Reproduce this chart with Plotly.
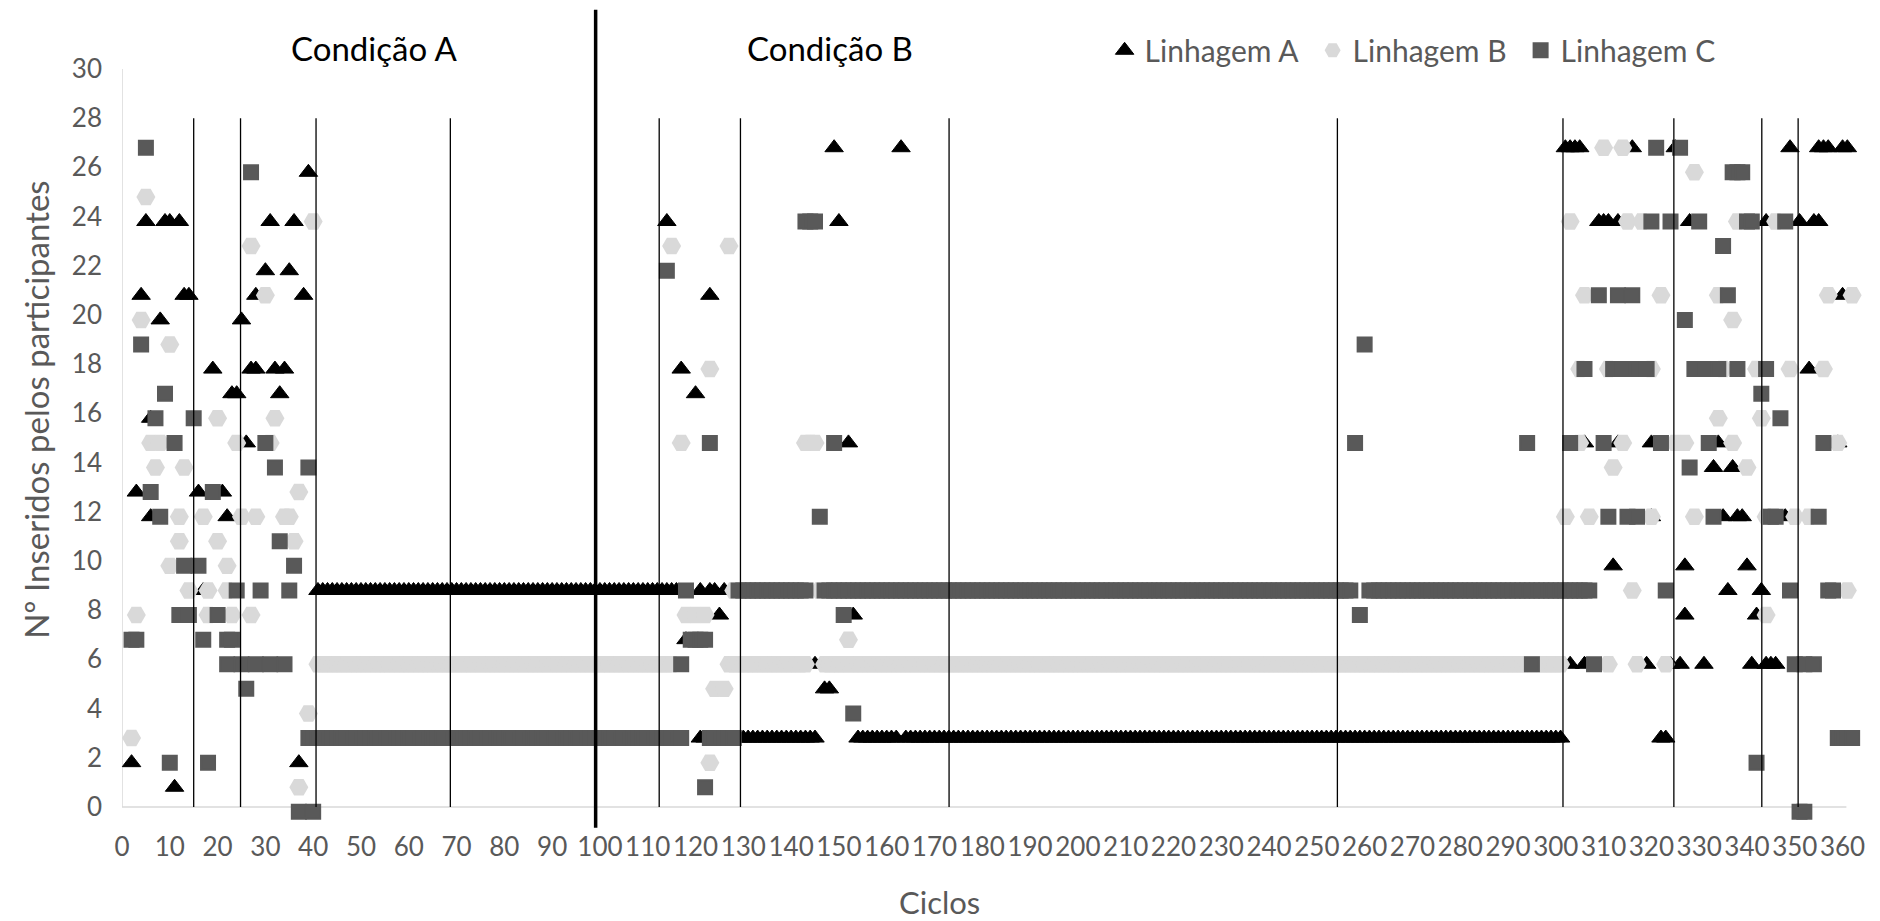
import plotly.graph_objects as go

# ---------------- data (cycle, participants inserted) ----------------
# Linhagem A – individual points
A_x = [2, 3, 4, 5, 6, 6, 8, 9, 10, 11, 12, 13, 14, 16, 17, 19, 21, 22, 23, 24, 25, 26, 27, 28, 28,
       30, 31, 32, 33, 34, 35, 36, 37, 38, 39,
       114, 117, 118, 120, 121, 123, 124, 126, 123, 125, 128, 121, 122,
       145, 147, 148, 149, 150, 151, 152, 153, 163,
       302, 303, 304, 305, 309, 310, 311, 313, 316, 325, 306, 313, 320, 320, 312, 327, 327,
       303, 306, 319, 324, 322, 323, 328, 344, 351, 354, 355, 349, 355, 356, 357, 360, 361,
       360, 353, 334, 359, 333, 337, 335, 338, 339, 348, 340, 336, 343, 342, 326, 331, 341,
       344, 345, 346]
A_y = [2, 13, 21, 24, 16, 12, 20, 24, 24, 1, 24, 21, 21, 13, 9, 18, 13, 12, 17, 17, 20, 15, 18, 18, 21,
       22, 24, 18, 17, 18, 22, 24, 2, 21, 26,
       24, 18, 7, 17, 9, 9, 9, 9, 21, 8, 6, 3, 3,
       6, 5, 5, 27, 24, 6, 15, 8, 27,
       27, 27, 27, 27, 24, 24, 24, 24, 27, 27, 15, 15, 15, 12, 10, 10, 8,
       6, 6, 6, 6, 3, 3, 24, 24, 24, 24, 24, 27, 27, 27, 27, 27, 27,
       21, 18, 15, 15, 14, 14, 12, 12, 12, 12, 10, 9, 9, 8, 6, 6, 6,
       6, 6, 6]
# Linhagem A – constant stretches (first cycle, last cycle, value)
A_run_start = [41, 129, 154, 164]
A_run_end = [116, 145, 162, 301]
A_run_value = [9, 3, 3, 3]

# Linhagem B – individual points
B_x = [2, 3, 4, 5, 6, 7, 8, 10, 10, 12, 12, 13, 14, 17, 18, 18, 20, 20, 22, 22, 23, 24, 25, 27, 27,
       28, 30, 31, 32, 34, 35, 36, 37, 37, 39, 40,
       115, 127, 123, 117, 143, 144, 145, 146, 128, 118, 120, 122, 152, 124, 126, 123,
       310, 314, 329, 303, 315, 318, 306, 322, 305, 311, 320, 305, 314, 312, 325, 327,
       302, 307, 320, 316, 311, 317, 323, 338, 346, 334, 357, 362, 337, 335, 342, 349, 356,
       334, 343, 337, 359, 340, 329, 344, 350, 353, 361, 344]
B_y = [3, 8, 20, 25, 15, 14, 15, 19, 10, 12, 11, 14, 9, 12, 9, 8, 16, 11, 10, 9, 8, 15, 12, 23, 8,
       12, 21, 15, 16, 12, 12, 11, 13, 1, 4, 24,
       23, 23, 18, 15, 15, 15, 15, 9, 9, 8, 8, 8, 7, 5, 5, 2,
       27, 27, 26, 24, 24, 24, 21, 21, 18, 18, 18, 15, 15, 14, 15, 15,
       12, 12, 12, 9, 6, 6, 6, 24, 24, 21, 21, 21, 20, 18, 18, 18, 18,
       16, 16, 15, 15, 14, 12, 12, 12, 12, 9, 8]
B_run_start = [41, 127, 147]
B_run_end = [115, 143, 301]
B_run_value = [6, 6, 6]

# Linhagem C – individual points
C_x = [2, 3, 4, 5, 6, 7, 8, 9, 10, 11, 13, 12, 14, 15, 16, 17, 18, 19, 20, 22, 23, 24, 26, 27,
       29, 30, 32, 33, 35, 36, 37, 39, 40, 22, 25, 28, 31, 34,
       114, 123, 118, 119, 120, 121, 122, 117, 122, 143, 144, 145, 146, 149, 151, 153,
       258, 259, 260, 294, 295,
       321, 326, 320, 324, 309, 313, 316, 327, 306, 312, 314, 317, 319, 303, 310, 322, 328,
       311, 315, 317, 323, 308, 337, 338, 339, 330, 340, 341, 348, 335, 336, 329, 331, 334,
       338, 344, 343, 347, 332, 356, 333, 345, 346, 355, 349, 357, 358, 350, 352, 354,
       359, 360, 361, 362, 342, 351, 352]
C_y = [7, 7, 19, 27, 13, 16, 12, 17, 2, 15, 10, 8, 8, 16, 10, 7, 2, 13, 8, 7, 7, 9, 5, 26,
       9, 15, 14, 11, 9, 10, 0, 14, 0, 6, 6, 6, 6, 6,
       22, 15, 9, 7, 7, 7, 7, 6, 1, 24, 24, 24, 12, 15, 8, 4,
       15, 8, 19, 15, 6,
       27, 27, 24, 24, 21, 21, 21, 20, 18, 18, 18, 18, 18, 15, 15, 15, 14,
       12, 12, 12, 9, 6, 26, 26, 26, 24, 24, 24, 24, 23, 21, 18, 18, 18,
       18, 18, 17, 16, 15, 15, 12, 12, 12, 12, 9, 9, 9, 6, 6, 6,
       3, 3, 3, 3, 2, 0, 0]
C_run_start = [39, 123, 129, 147, 261]
C_run_end = [117, 128, 143, 257, 307]
C_run_value = [3, 3, 9, 9, 9]

# phase boundaries (cycles)
phase_lines = [15, 24.8, 40.6, 68.7, 112.4, 129.4, 173.05, 254.3, 301.5, 324.7, 343.1, 350.7]
condition_change = 99.1

x_ticks = list(range(0, 361, 10))
y_ticks = list(range(0, 31, 2))

# ---------------- helpers ----------------
Y_OFFSET = -0.2  # Excel draws the markers slightly below their nominal value


def expand(xs, ys, starts, ends, vals):
    X, Y = list(xs), list(ys)
    for s, e, v in zip(starts, ends, vals):
        for c in range(s, e + 1):
            X.append(c)
            Y.append(v)
    return X, [v + Y_OFFSET for v in Y]


ax, ay = expand(A_x, A_y, A_run_start, A_run_end, A_run_value)
bx, by = expand(B_x, B_y, B_run_start, B_run_end, B_run_value)
cx, cy = expand(C_x, C_y, C_run_start, C_run_end, C_run_value)

FONT = "Lato"
GREY = "#595959"
AXIS_GREY = "#d9d9d9"
X_END = 360.8

fig = go.Figure()
fig.add_trace(go.Scatter(x=ax, y=ay, mode="markers", name="Linhagem A", cliponaxis=False,
                         marker=dict(symbol="triangle-up", size=16, color="#000000",
                                     line=dict(width=1, color="#000000"))))
fig.add_trace(go.Scatter(x=bx, y=by, mode="markers", name="Linhagem B", cliponaxis=False,
                         marker=dict(symbol="hexagon2", size=19, color="#d9d9d9",
                                     line=dict(width=0))))
fig.add_trace(go.Scatter(x=cx, y=cy, mode="markers", name="Linhagem C", cliponaxis=False,
                         marker=dict(symbol="square", size=14, color=GREY,
                                     line=dict(width=2, color=GREY))))

shapes = [
    # axis lines (drawn as shapes so points at 0 / past 360 stay visible)
    dict(type="line", xref="x", yref="y", x0=0, x1=X_END, y0=0, y1=0,
         line=dict(color=AXIS_GREY, width=1.5), layer="below"),
    dict(type="line", xref="x", yref="y", x0=0, x1=0, y0=0, y1=30,
         line=dict(color=AXIS_GREY, width=1.5), layer="below"),
]
for xv in phase_lines:
    shapes.append(dict(type="line", xref="x", yref="y", x0=xv, x1=xv, y0=0, y1=28,
                       line=dict(color="#000000", width=1.3), layer="above"))
shapes.append(dict(type="line", xref="x", yref="paper", x0=condition_change, x1=condition_change,
                   y0=-0.013, y1=1.079, line=dict(color="#000000", width=3.5), layer="above"))

annotations = [
    dict(text="Condição A", x=0.1454, y=1.028, xref="paper", yref="paper", showarrow=False,
         xanchor="center", yanchor="middle", font=dict(family=FONT, size=33, color="#000000")),
    dict(text="Condição B", x=0.4086, y=1.028, xref="paper", yref="paper", showarrow=False,
         xanchor="center", yanchor="middle", font=dict(family=FONT, size=33, color="#000000")),
    dict(text="Ciclos", x=0.4715, y=-0.112, xref="paper", yref="paper", showarrow=False,
         xanchor="center", yanchor="middle", font=dict(family=FONT, size=31, color=GREY)),
    dict(text="Nº Inseridos pelos participantes", x=-0.0496, y=0.545, xref="paper", yref="paper",
         showarrow=False, textangle=-90, xanchor="center", yanchor="middle",
         font=dict(family=FONT, size=33, color=GREY)),
]

# the page body has an 8 px margin, so the figure is sized to fit inside it
fig.update_layout(
    width=1872, height=913,
    margin=dict(l=114, r=25, t=61, b=103),
    paper_bgcolor="white", plot_bgcolor="white",
    showlegend=True,
    legend=dict(orientation="h", x=0.567, y=1.025, xanchor="left", yanchor="middle",
                font=dict(family=FONT, size=30, color=GREY), entrywidth=163,
                bgcolor="rgba(0,0,0,0)"),
    shapes=shapes, annotations=annotations,
    xaxis=dict(range=[0, 362.6], tickvals=x_ticks, ticktext=[str(t) for t in x_ticks],
               showgrid=False, zeroline=False, showline=False,
               ticks="", ticklabelstandoff=11, tickangle=0,
               tickfont=dict(family=FONT, size=26, color=GREY)),
    yaxis=dict(range=[-0.45, 30], tickvals=y_ticks, ticktext=[str(t) for t in y_ticks],
               showgrid=False, zeroline=False, showline=False,
               ticks="", ticklabelstandoff=19,
               tickfont=dict(family=FONT, size=26, color=GREY)),
)

fig.write_html("out.html")
